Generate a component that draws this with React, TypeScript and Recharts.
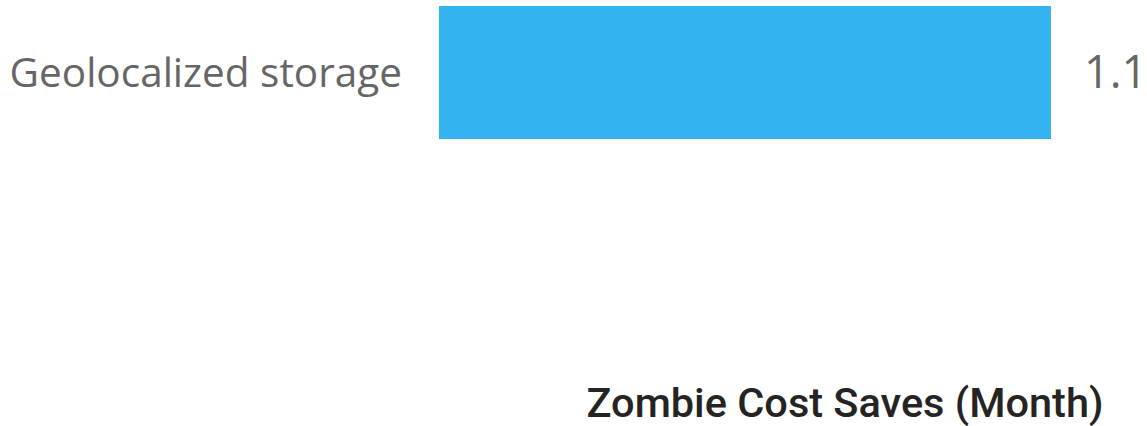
import { BarChart, Bar, XAxis, YAxis, LabelList } from "recharts";

const categories = ["Geolocalized storage"];
const savings = [1.1];
const axisTitle = "Zombie Cost Saves (Month)";

const data = categories.map((name, i) => ({ name, value: savings[i] }));

export default function App() {
  return (
    <div style={{ position: "absolute", left: 0, top: 0, width: 1147, height: 426, background: "#fff" }}>
      <BarChart
        width={1147}
        height={426}
        data={data}
        layout="vertical"
        margin={{ top: 0, right: 96, bottom: 0, left: 0 }}
      >
        <XAxis
          type="number"
          domain={[0, 1.1]}
          tick={false}
          axisLine={false}
          tickLine={false}
          height={281}
          label={{
            value: axisTitle,
            position: "insideBottom",
            offset: 9,
            dx: 100,
            fill: "#252423",
            fontSize: 41.5,
            fontWeight: 500,
            fontFamily: "Roboto, sans-serif",
          }}
        />
        <YAxis
          type="category"
          dataKey="name"
          width={439}
          axisLine={false}
          tickLine={false}
          tickSize={0}
          tickMargin={37}
          tick={{ fill: "#666666", fontSize: 40.5, fontFamily: "Open Sans, sans-serif" }}
        />
        <Bar dataKey="value" fill="#33B3F0" barSize={133} isAnimationActive={false}>
          <LabelList
            dataKey="value"
            position="right"
            offset={33}
            fill="#666666"
            fontSize={45}
            fontFamily="Open Sans, sans-serif"
          />
        </Bar>
      </BarChart>
    </div>
  );
}
